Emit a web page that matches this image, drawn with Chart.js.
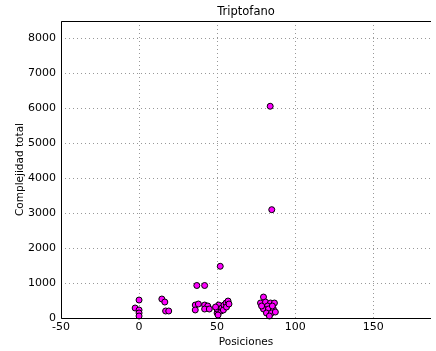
<!DOCTYPE html>
<html lang="es">
<head>
<meta charset="UTF-8">
<title>Triptofano</title>
<script src="https://cdn.jsdelivr.net/npm/chart.js"></script>
<style>
  body { margin: 0; background: #fff; }
</style>
</head>
<body>
<canvas id="chart" width="436" height="351"></canvas>
<script>
  // positions (x) and total complexity (y)
  const posiciones = [0, -2.5, 0, 0, 0, 14.6, 16.5, 17, 19,
    36, 36, 38, 42, 44, 42, 45, 37, 42,
    50, 50, 51, 52.5, 53, 54.4, 55.7, 57, 54, 56, 49, 57.6, 50.6, 52,
    79.7, 77.8, 81, 84.2, 86.7, 82.3, 79.7, 82.9, 86, 81.6, 84.8, 87.3, 78.5, 85.4, 83.5, 84, 85];
  const complejidad = [514, 286, 229, 143, 57, 543, 457, 200, 200,
    371, 230, 400, 371, 343, 257, 257, 930, 930,
    143, 257, 371, 200, 286, 371, 429, 486, 229, 314, 314, 400, 86, 1480,
    600, 429, 457, 429, 429, 343, 257, 257, 257, 143, 143, 171, 343, 343, 57, 6060, 3100];
  const xTicks = [-50, 0, 50, 100, 150];
  const yTicks = [0, 1000, 2000, 3000, 4000, 5000, 6000, 7000, 8000];
  const titulo = 'Triptofano';

  const puntos = posiciones.map((x, i) => ({ x: x, y: complejidad[i] }));

  const font = 'DejaVu Sans';
  const fs = 11;

  // axes frame (left, top, bottom) and the title centred over the plot area
  const frame = {
    id: 'frame',
    afterDraw(chart) {
      const a = chart.chartArea, ctx = chart.ctx;
      ctx.save();
      ctx.strokeStyle = '#000';
      ctx.lineWidth = 1;
      ctx.beginPath();
      ctx.moveTo(a.right, a.top + 0.5);
      ctx.lineTo(a.left + 0.5, a.top + 0.5);
      ctx.lineTo(a.left + 0.5, a.bottom + 0.5);
      ctx.lineTo(a.right, a.bottom + 0.5);
      ctx.stroke();
      ctx.fillStyle = '#000';
      ctx.font = '11.5px "' + font + '"';
      ctx.textAlign = 'center';
      ctx.textBaseline = 'middle';
      ctx.fillText(titulo, (a.left + a.right) / 2, 12);
      ctx.restore();
    }
  };

  const gridColor = '#999';

  new Chart(document.getElementById('chart'), {
    type: 'scatter',
    data: {
      datasets: [{
        data: puntos,
        backgroundColor: '#ff00ff',
        borderColor: '#000',
        borderWidth: 1,
        pointRadius: 3,
        clip: false
      }]
    },
    options: {
      responsive: false,
      animation: false,
      layout: { padding: { left: 0, right: 0, top: 21, bottom: 0 } },
      plugins: {
        legend: { display: false },
        tooltip: { enabled: false },
        title: { display: false }
      },
      scales: {
        x: {
          type: 'linear',
          min: -50,
          max: 187,
          afterBuildTicks: s => { s.ticks = xTicks.map(v => ({ value: v })); },
          afterFit: s => { s.height = 33; },
          ticks: { color: '#000', font: { family: font, size: fs }, padding: 3, maxRotation: 0, callback: v => String(v) },
          grid: { color: gridColor, tickLength: 0, drawTicks: false },
          border: { display: false, dash: [1, 3] },
          title: { display: true, text: 'Posiciones', color: '#000', font: { family: font, size: 10.5 }, padding: { top: 0, bottom: 2 } }
        },
        y: {
          min: 0,
          max: 8500,
          afterBuildTicks: s => { s.ticks = yTicks.map(v => ({ value: v })); },
          afterFit: s => { s.width = 61; },
          ticks: { color: '#000', font: { family: font, size: fs }, padding: 5, autoSkip: false, callback: v => String(v) },
          grid: { color: gridColor, tickLength: 0, drawTicks: false },
          border: { display: false, dash: [1, 3] },
          title: { display: true, text: 'Complejidad total', color: '#000', font: { family: font, size: 10.5 }, padding: { top: 14, bottom: 0 } }
        }
      }
    },
    plugins: [frame]
  });
</script>
</body>
</html>
